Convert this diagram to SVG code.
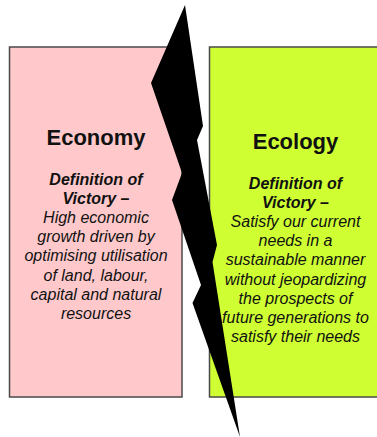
<svg xmlns="http://www.w3.org/2000/svg" width="377" height="437" viewBox="0 0 377 437">
  <style>
    .box { stroke: #4a4a4a; stroke-width: 1.5; }
    .title { font-family: "Liberation Sans", Arial, sans-serif; font-weight: bold; font-size: 22px; fill: #111; text-anchor: middle; }
    .head { font-family: "Liberation Sans", Arial, sans-serif; font-weight: bold; font-style: italic; font-size: 16px; fill: #111; text-anchor: middle; }
    .body { font-family: "Liberation Sans", Arial, sans-serif; font-style: italic; font-size: 16px; fill: #111; text-anchor: middle; }
  </style>
  <rect x="0" y="0" width="377" height="437" fill="#ffffff"/>
  <g id="economy">
    <rect class="box" x="9.5" y="47" width="172.5" height="350" fill="#ffc9cb"/>
    <text class="title" x="96" y="145">Economy</text>
    <text class="head" x="96" y="184.5">Definition of</text>
    <text class="head" x="96" y="203.7">Victory –</text>
    <text class="body" x="96" y="222.9">High economic</text>
    <text class="body" x="96" y="242.1">growth driven by</text>
    <text class="body" x="96" y="261.3">optimising utilisation</text>
    <text class="body" x="96" y="280.5">of land, labour,</text>
    <text class="body" x="96" y="299.7">capital and natural</text>
    <text class="body" x="96" y="318.9">resources</text>
  </g>
  <g id="ecology">
    <rect class="box" x="209.5" y="47" width="172" height="350" fill="#cfff33"/>
    <text class="title" x="295.5" y="149">Ecology</text>
    <text class="head" x="295.5" y="188.5">Definition of</text>
    <text class="head" x="295.5" y="207.7">Victory –</text>
    <text class="body" x="295.5" y="226.9">Satisfy our current</text>
    <text class="body" x="295.5" y="246.1">needs in a</text>
    <text class="body" x="295.5" y="265.3">sustainable manner</text>
    <text class="body" x="295.5" y="284.5">without jeopardizing</text>
    <text class="body" x="295.5" y="303.7">the prospects of</text>
    <text class="body" x="295.5" y="322.9">future generations to</text>
    <text class="body" x="295.5" y="342.1">satisfy their needs</text>
  </g>
  <g id="connectors">
    <polygon id="lightning" fill="#000000" points="185,5 203,126 197,140 217,245 212.5,262 240,437 192.5,303 201,285 172,200 182,173 151,83"/>
  </g>
</svg>
